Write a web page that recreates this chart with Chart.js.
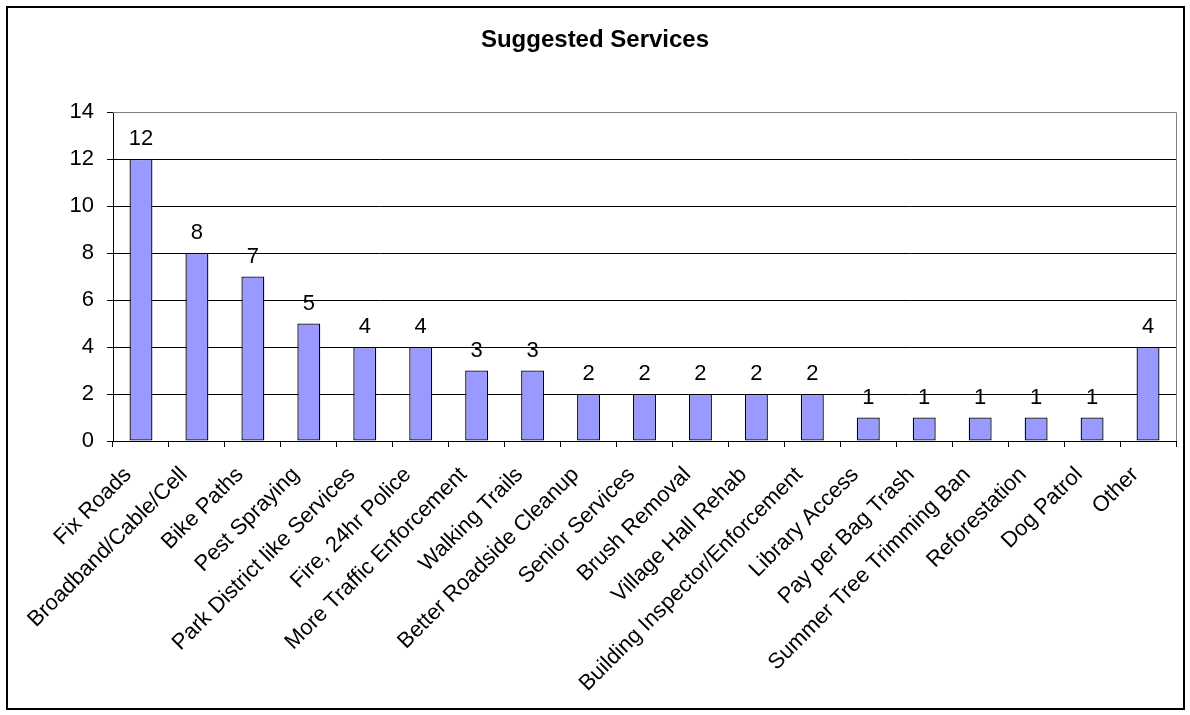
<!DOCTYPE html>
<html>
<head>
<meta charset="utf-8">
<script src="https://cdn.jsdelivr.net/npm/chart.js@4.4.0/dist/chart.umd.min.js"></script>
<style>
  html, body { margin: 0; padding: 0; background: #fff; }
  #wrap { position: relative; width: 1190px; height: 715px; }
</style>
</head>
<body>
<div id="wrap"><canvas id="chart" width="1190" height="715"></canvas></div>
<script>
// Categorias e valores
const categories = [
    'Fix Roads', 'Broadband/Cable/Cell', 'Bike Paths', 'Pest Spraying',
    'Park District like Services', 'Fire, 24hr Police', 'More Traffic Enforcement',
    'Walking Trails', 'Better Roadside Cleanup', 'Senior Services', 'Brush Removal',
    'Village Hall Rehab', 'Building Inspector/Enforcement', 'Library Access',
    'Pay per Bag Trash', 'Summer Tree Trimming Ban', 'Reforestation', 'Dog Patrol', 'Other'
];
const counts = [12, 8, 7, 5, 4, 4, 3, 3, 2, 2, 2, 2, 2, 1, 1, 1, 1, 1, 4];
const yTicks = [0, 2, 4, 6, 8, 10, 12, 14];
const chartTitle = 'Suggested Services';

const FONT = 'Arial, "Liberation Sans", sans-serif';

// Moldura externa, título e borda cinza da área do gráfico
const framePlugin = {
    id: 'frame',
    beforeDraw(chart) {
        const ctx = chart.ctx;
        ctx.save();
        ctx.fillStyle = '#fff';
        ctx.fillRect(0, 0, chart.width, chart.height);
        ctx.strokeStyle = '#000';
        ctx.lineWidth = 2;
        ctx.strokeRect(7, 7, 1177, 702);
        ctx.fillStyle = '#000';
        ctx.font = 'bold 24px ' + FONT;
        ctx.textAlign = 'center';
        ctx.textBaseline = 'middle';
        ctx.fillText(chartTitle, chart.width / 2, 40);
        ctx.restore();
    },
    afterDraw(chart) {
        const a = chart.chartArea;
        const ctx = chart.ctx;
        ctx.save();
        ctx.strokeStyle = '#808080';
        ctx.lineWidth = 1;
        ctx.beginPath();
        ctx.moveTo(a.left, Math.round(a.top) + 0.5);
        ctx.lineTo(Math.round(a.right) + 0.5, Math.round(a.top) + 0.5);
        ctx.lineTo(Math.round(a.right) + 0.5, a.bottom);
        ctx.stroke();
        ctx.restore();
    }
};

// Rótulos de valor acima das barras
const valueLabels = {
    id: 'valueLabels',
    afterDatasetsDraw(chart) {
        const ctx = chart.ctx;
        const meta = chart.getDatasetMeta(0);
        ctx.save();
        ctx.font = '22px ' + FONT;
        ctx.fillStyle = '#000';
        ctx.textAlign = 'center';
        ctx.textBaseline = 'bottom';
        meta.data.forEach(function(bar, i) {
            ctx.fillText(String(counts[i]), bar.x, bar.y - 9);
        });
        ctx.restore();
    }
};

new Chart(document.getElementById('chart'), {
    type: 'bar',
    data: {
        labels: categories,
        datasets: [{
            data: counts,
            backgroundColor: '#9999FF',
            borderColor: '#000',
            borderWidth: 1.3,
            borderSkipped: false,
            categoryPercentage: 0.41,
            barPercentage: 1
        }]
    },
    options: {
        responsive: false,
        animation: false,
        layout: { padding: { left: 0, right: 14, top: 112, bottom: 0 } },
        plugins: {
            legend: { display: false },
            tooltip: { enabled: false },
            title: { display: false }
        },
        scales: {
            x: {
                offset: true,
                grid: {
                    offset: true,
                    drawOnChartArea: false,
                    tickLength: 6,
                    tickColor: '#000',
                    lineWidth: 1
                },
                border: { color: '#000', width: 1 },
                ticks: {
                    color: '#000',
                    font: { family: FONT, size: 22 },
                    minRotation: 45,
                    maxRotation: 45,
                    autoSkip: false,
                    padding: 15,
                    labelOffset: -13
                },
                afterFit(scale) { scale.height = 274; }
            },
            y: {
                min: 0,
                max: 14,
                afterBuildTicks(scale) {
                    scale.ticks = yTicks.map(v => ({ value: v }));
                },
                grid: {
                    color: ctx => (ctx.tick && ctx.tick.value === 14) ? '#808080' : '#000',
                    tickColor: '#000',
                    tickLength: 6,
                    lineWidth: 1
                },
                border: { color: '#000', width: 1 },
                ticks: {
                    color: '#000',
                    font: { family: FONT, size: 22 },
                    padding: 13
                },
                afterFit(scale) { scale.width = 113; }
            }
        }
    },
    plugins: [framePlugin, valueLabels]
});
</script>
</body>
</html>
